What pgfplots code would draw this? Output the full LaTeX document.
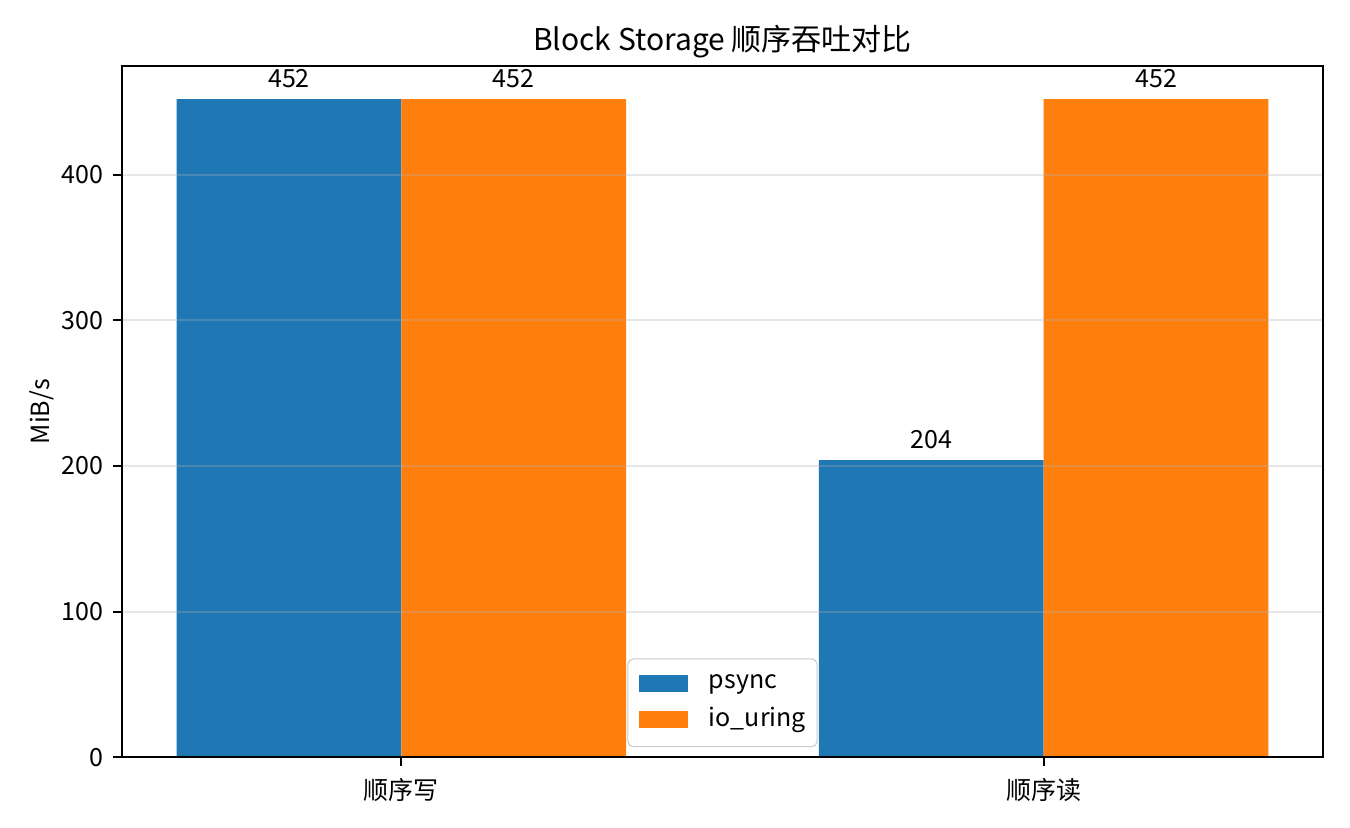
\documentclass[border=0pt]{standalone}
\usepackage{pgfplots}
\pgfplotsset{compat=1.18}
\usepackage{fontspec}
\setmainfont{Noto Sans CJK SC}
\definecolor{c0}{HTML}{1F77B4}
\definecolor{c1}{HTML}{FF7F0E}
\begin{document}
\begin{tikzpicture}
\useasboundingbox (-43.9pt,-25.2pt) rectangle (442.1pt,272.6pt);
\begin{axis}[
  at={(0,0)}, anchor=south west,
  width=432.4pt, height=248.8pt, scale only axis,
  xmin=-0.435, xmax=1.435,
  ymin=0, ymax=474.6,
  xtick={0,1}, xticklabels={顺序写,顺序读},
  ytick={0,100,200,300,400},
  tick pos=left, tick align=outside,
  major tick length=3.2pt,
  every tick/.style={black, line width=0.75pt},
  axis line style={line width=0.75pt},
  ymajorgrids, grid style={color=black!31, opacity=0.3, line width=0.75pt},
  axis on top,
  ybar, bar width=0.35,
  ylabel={MiB/s},
  ylabel style={at={(axis description cs:0,0.5)}, anchor=center, yshift=29pt},
  title={Block Storage 顺序吞吐对比},
  title style={font=\fontsize{10.8}{13}\selectfont, at={(0.5,1)}, anchor=south, yshift=-6.5pt},
  tick label style={font=\fontsize{9}{11}\selectfont},
  xticklabel style={yshift=-0.7pt},
  label style={font=\fontsize{9}{11}\selectfont},
  /pgf/number format/assume math mode=true,
  nodes near coords,
  nodes near coords style={font=\fontsize{9}{11}\selectfont, black, inner sep=3.8pt},
  legend style={at={(0.5,0)}, anchor=south, yshift=3.6pt, draw=black!20, rounded corners=2pt, fill=white, fill opacity=0.8, text opacity=1, font=\fontsize{9}{11}\selectfont, row sep=1.4pt, inner xsep=4pt, inner ysep=3.6pt, nodes={inner xsep=0pt}},
  legend cell align=left,
  legend image code/.code={\fill[#1, fill opacity=1, sharp corners] (0pt,-3pt) rectangle (17.6pt,3pt);},
  /tikz/every odd column/.append style={column sep=7.6pt},
]
\addplot[fill=c0, draw=none, bar shift=-0.175] coordinates {(0,452) (1,204)};
\addlegendentry{psync}
\addplot[fill=c1, draw=none, bar shift=0.175] coordinates {(0,452) (1,452)};
\addlegendentry{io\_uring}
\end{axis}
\end{tikzpicture}
\end{document}
